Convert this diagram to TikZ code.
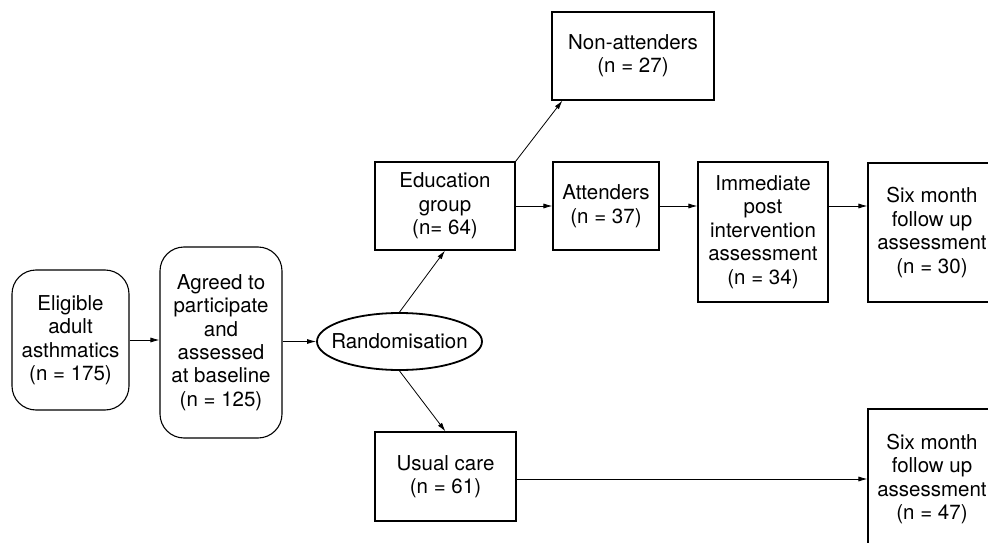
\documentclass[tikz,border=0pt]{standalone}
\usepackage{fontspec}
\setmainfont{TeX Gyre Heros}
\usetikzlibrary{shapes.geometric,arrows.meta,calc}
\begin{document}
\begin{tikzpicture}[x=1pt,y=-1pt,
  txt/.style={align=center,font=\fontsize{20.5}{23.4}\selectfont,inner sep=0pt},
  rbox/.style={txt,draw,line width=1.1pt,rounded corners=24pt},
  sbox/.style={txt,draw,line width=1.1pt},
  ell/.style={txt,draw,ellipse,line width=1.8pt,inner xsep=-12pt},
  arr/.style={line width=0.8pt,-{Latex[length=9pt,width=5pt]}}]
\useasboundingbox (0,0) rectangle (988,543);
\fill[white] (0,0) rectangle (988,543);
\node[rbox,minimum width=117pt,minimum height=140pt] (elig) at (70.5,340) {Eligible\\adult\\asthmatics\\(n = 175)};
\node[rbox,minimum width=122pt,minimum height=191pt] (agreed) at (221,342.5) {Agreed to\\participate\\and\\assessed\\at baseline\\(n = 125)};
\node[ell,minimum width=165pt,minimum height=57pt] (rand) at (399.5,341.5) {Randomisation};
\node[sbox,minimum width=140pt,minimum height=88pt] (edu) at (445,206) {Education\\group\\(n= 64)};
\node[sbox,minimum width=141pt,minimum height=89pt] (usual) at (445.5,476.5) {Usual care\\(n = 61)};
\node[sbox,minimum width=162pt,minimum height=88pt] (nonatt) at (633,56) {Non-attenders\\(n = 27)};
\node[sbox,minimum width=106pt,minimum height=88pt] (att) at (606,206) {Attenders\\(n = 37)};
\node[sbox,minimum width=130pt,minimum height=140pt] (immed) at (763,232) {Immediate\\post\\intervention\\assessment\\(n = 34)};
\node[sbox,minimum width=128pt,minimum height=139pt] (six1) at (932,232.5) {Six month\\follow up\\assessment\\(n = 30)};
\node[sbox,minimum width=128pt,minimum height=140pt] (six2) at (932,479) {Six month\\follow up\\assessment\\(n = 47)};
\draw[arr] (elig.east) -- (agreed.west |- elig.east);
\draw[arr] (agreed.east |- rand.west) -- (rand.west);
\draw[arr] (rand.north) -- (edu.south);
\draw[arr] (rand.south) -- (usual.north);
\draw[arr] (edu.north east) -- ($(nonatt.south west)+(11,0)$);
\draw[arr] (edu.east) -- (att.west);
\draw[arr] (att.east) -- (att.east -| immed.west);
\draw[arr] (att.east -| immed.east) -- (att.east -| six1.west);
\draw[arr] (usual.east |- six2.west) -- (six2.west);
\end{tikzpicture}
\end{document}
